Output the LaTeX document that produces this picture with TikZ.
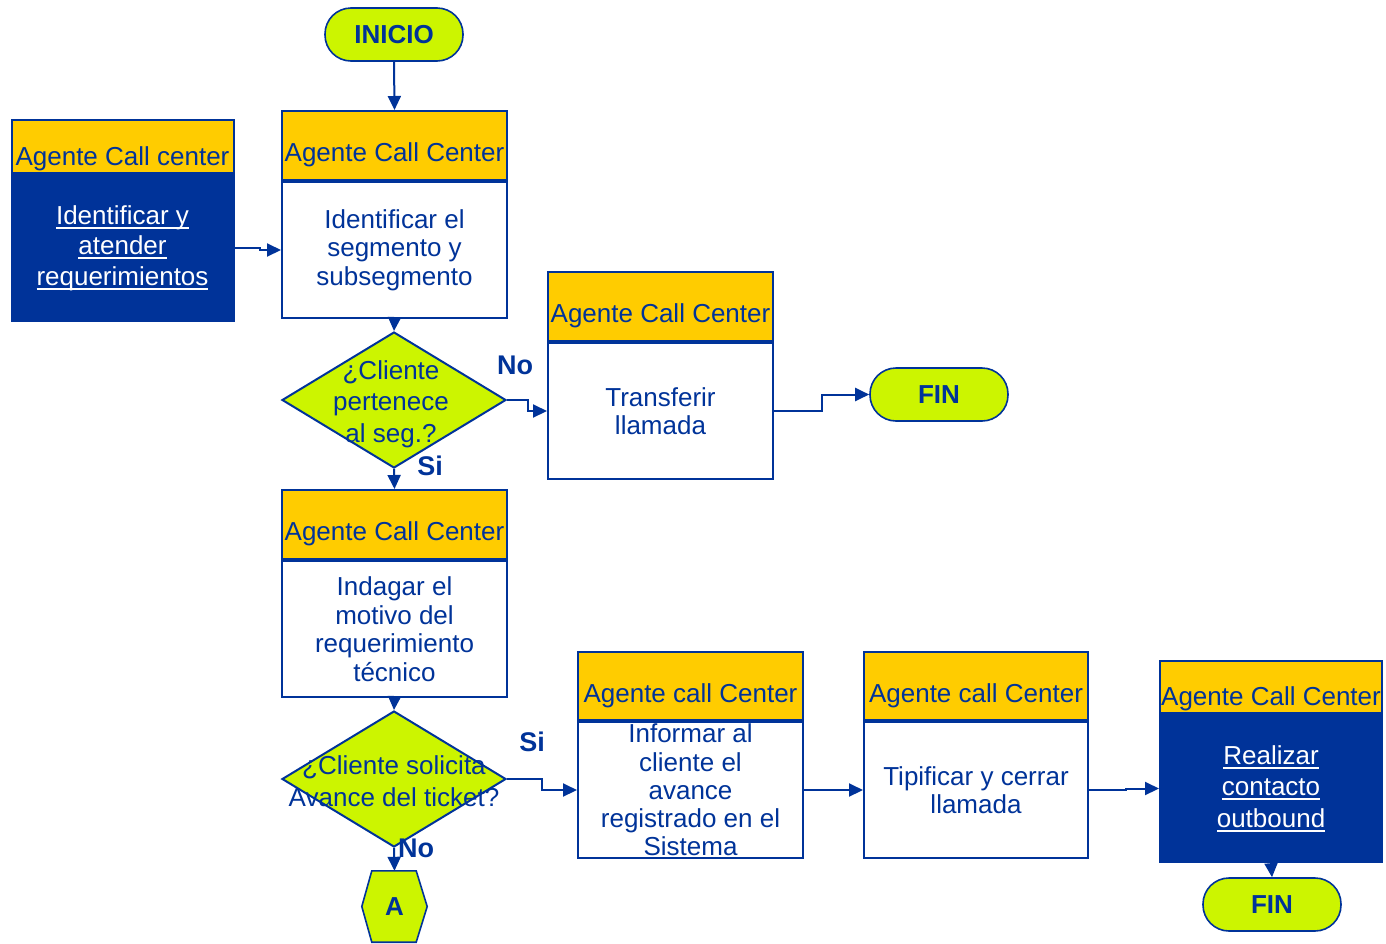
\documentclass[tikz,border=0pt]{standalone}
\usepackage{fontspec}
\setmainfont{Liberation Sans}
\usetikzlibrary{shapes.geometric,arrows.meta}
\definecolor{dblue}{RGB}{0,51,153}
\definecolor{gold}{RGB}{255,204,0}
\definecolor{lime}{RGB}{204,245,0}
% underline at a fixed depth below the baseline
\newcommand{\ulword}[1]{\setbox0=\hbox{#1}\leavevmode\rlap{\rule[-4.5pt]{\wd0}{1.8pt}}\box0}
\tikzset{
  ln/.style={draw=dblue, line width=2pt},
  basefont/.style={font=\fontsize{26}{28.5}\selectfont, text=dblue},
  hdr/.style={ln, fill=gold, basefont, inner sep=0pt, text height=32pt, text depth=0pt},
  darkhdr/.style={hdr, text height=37pt},
  bodybox/.style={ln, fill=white, basefont, align=center, inner sep=0pt, anchor=north},
  darkbody/.style={bodybox, fill=dblue, text=white},
  term/.style={ln, line width=1.6pt, fill=lime, rounded corners=26pt, minimum width=138pt,
    minimum height=53pt, font=\fontsize{26}{28}\selectfont\bfseries, text=dblue},
  dia/.style={diamond, ln, fill=lime, minimum width=224pt, minimum height=136pt, inner sep=0pt},
  dtext/.style={basefont, align=center, inner sep=0pt},
  tag/.style={font=\fontsize{27}{28}\selectfont\bfseries, text=dblue, inner sep=0pt},
  arr/.style={draw=dblue, line width=2pt, -{Triangle[length=14pt,width=13pt]}}
}
\begin{document}
\begin{tikzpicture}[x=1pt,y=-1pt]
\useasboundingbox (0,0) rectangle (1386,943);

% start
\node[term] (inicio) at (394,34.5) {INICIO};

% side box
\node[darkhdr, minimum width=222pt, minimum height=53pt] (lh) at (122.5,146.5) {Agente Call center};
\node[darkbody, minimum width=222pt, minimum height=146pt, font=\fontsize{26}{30.5}\selectfont] (lb) at (lh.south)
  {\ulword{Identificar y}\\\ulword{atender}\\\ulword{requerimientos}};

% identify segment
\node[hdr, minimum width=225pt, minimum height=69pt] (h1) at (394.5,145.5) {Agente Call Center};
\node[bodybox, minimum width=225pt, minimum height=136pt] (b1) at (h1.south)
  {Identificar el\\segmento y\\subsegmento};

% first decision
\node[dia] (d1) at (394,400) {};
\node[dtext, font=\fontsize{26}{31.5}\selectfont] (d1t) at (391,404) {¿Cliente\\pertenece\\al seg.?};
\node[tag] (no1) at (515,365) {No};
\node[tag] (si1) at (430,466) {Si};

% transfer
\node[hdr, minimum width=225pt, minimum height=69pt] (h3) at (660.5,306.5) {Agente Call Center};
\node[bodybox, minimum width=225pt, minimum height=136pt] (b3) at (h3.south) {Transferir\\llamada};
\node[term] (fin1) at (939,394.5) {FIN};

% inquire
\node[hdr, minimum width=225pt, minimum height=69pt] (h4) at (394.5,524.5) {Agente Call Center};
\node[bodybox, minimum width=225pt, minimum height=136pt] (b4) at (h4.south)
  {Indagar el\\motivo del\\requerimiento\\técnico};

% second decision
\node[dia] (d2) at (394,779) {};
\node[dtext, font=\fontsize{26}{32}\selectfont] (d2t) at (394,781) {¿Cliente solicita\\Avance del ticket?};
\node[tag] (si2) at (532,742) {Si};
\node[tag] (no2) at (416,848) {No};

% connector A
\node[minimum width=65pt, minimum height=71pt, inner sep=0pt] (hexA) at (394.5,906.5) {};
\filldraw[ln, line width=1.6pt, fill=lime] (hexA.west) -- ([xshift=10pt]hexA.north west) -- ([xshift=-11pt]hexA.north east)
  -- (hexA.east) -- ([xshift=-11pt]hexA.south east) -- ([xshift=10pt]hexA.south west) -- cycle;
\node[tag, font=\fontsize{26}{28}\selectfont\bfseries] (hexAt) at (hexA.center) {A};

% inform
\node[hdr, minimum width=225pt, minimum height=68pt] (h5) at (690.5,686) {Agente call Center};
\node[bodybox, minimum width=225pt, minimum height=136pt, font=\fontsize{26}{28.3}\selectfont] (b5) at (h5.south)
  {Informar al\\cliente el\\avance\\registrado en el\\Sistema};

% classify and close
\node[hdr, minimum width=224pt, minimum height=68pt] (h6) at (976,686) {Agente call Center};
\node[bodybox, minimum width=224pt, minimum height=136pt] (b6) at (h6.south) {Tipificar y cerrar\\llamada};

% outbound
\node[darkhdr, minimum width=222pt, minimum height=52pt] (h7) at (1271,687) {Agente Call Center};
\node[darkbody, minimum width=222pt, minimum height=147pt, font=\fontsize{26}{31.5}\selectfont] (b7) at (h7.south)
  {\ulword{Realizar}\\\ulword{contacto}\\\ulword{outbound}};
\node[term] (fin2) at (1272,904.5) {FIN};

% connectors
\draw[arr] (inicio.south) -- (h1.north);
\draw[arr] (lb.east) -- ++(25,0) |- (b1.west);
\draw[arr] (b1.south) -- (d1.north);
\draw[arr] (d1.east) -- ++(21,0) |- (b3.west);
\draw[arr] (b3.east) -- ++(48,0) |- (fin1.west);
\draw[arr] (d1.south) -- (h4.north);
\draw[arr] (b4.south) -- (d2.north);
\draw[arr] (d2.south) -- (hexA.north);
\draw[arr] (d2.east) -- ++(35,0) |- (b5.west);
\draw[arr] (b5.east) -- (b6.west);
\draw[arr] (b6.east) -- ++(37,0) |- (b7.west);
\draw[arr] (b7.south) -- (fin2.north);
\end{tikzpicture}
\end{document}
